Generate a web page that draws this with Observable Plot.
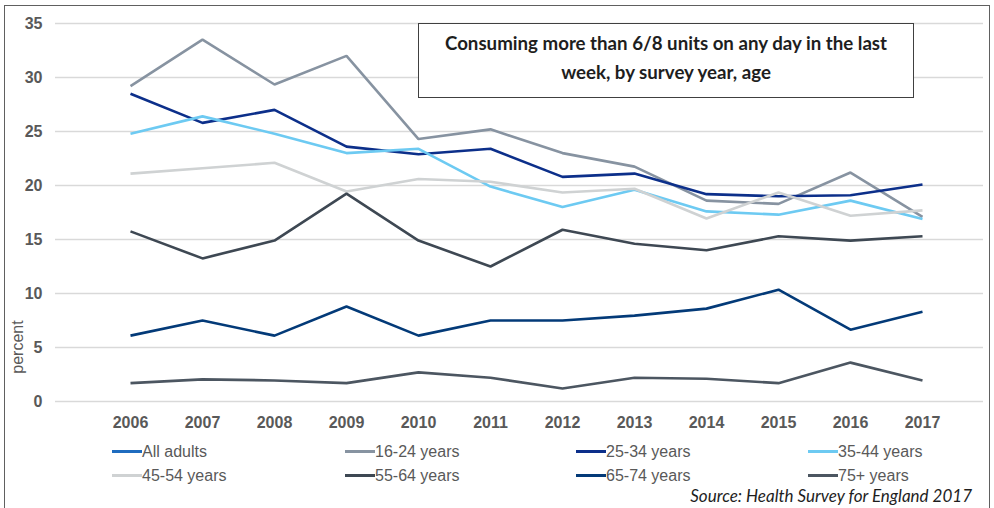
<!DOCTYPE html>
<html>
<head>
<meta charset="utf-8">
<script src="https://cdn.jsdelivr.net/npm/d3@7"></script>
<script src="https://cdn.jsdelivr.net/npm/@observablehq/plot@0.6"></script>
<style>
  html, body { margin: 0; padding: 0; background: #fff; }
  #wrap { position: relative; width: 994px; height: 508px; overflow: hidden; font-family: "Liberation Sans", Arial, sans-serif; }
  #frame { position: absolute; left: 4px; top: 5px; width: 986px; height: 520px; border: 1px solid #606060; box-sizing: border-box; pointer-events: none; }
  #title { position: absolute; left: 418px; top: 23px; width: 496px; height: 75px; border: 1px solid #404040; box-sizing: border-box; background: #fff;
           font-family: Lato, "Open Sans", sans-serif; font-weight: bold; font-size: 18.7px; color: #1e1e1e; text-align: center; line-height: 29px; padding-top: 5px; }
  .leg { position: absolute; font-size: 16px; color: #595959; white-space: nowrap; line-height: 18px; }
  .leg span.sw { display: inline-block; width: 30px; height: 3px; vertical-align: middle; margin-right: 0px; position: relative; top: -1px; }
  #source { position: absolute; right: 22px; top: 486px; font-family: Lato, "Open Sans", sans-serif; font-style: italic; font-size: 17px; line-height: 20px; color: #1e1e1e; }
  #ylabel { position: absolute; left: 17.5px; top: 347px; transform: translate(-50%, -50%) rotate(-90deg); font-size: 16px; color: #595959; white-space: nowrap; }
  g[aria-label="y-axis tick label"] text, g[aria-label="x-axis tick label"] text { font-weight: bold; }
</style>
</head>
<body>
<div id="wrap">
  <div id="chart"></div>
  <div id="ylabel">percent</div>
  <div id="title">Consuming more than 6/8 units on any day in the last<br>week, by survey year, age</div>
  <div id="legend"></div>
  <div id="source">Source: Health Survey for England 2017</div>
  <div id="frame"></div>
</div>
<script>
const years = [2006, 2007, 2008, 2009, 2010, 2011, 2012, 2013, 2014, 2015, 2016, 2017];
const yTicks = [0, 5, 10, 15, 20, 25, 30, 35];

const seriesNames = ["All adults", "16-24 years", "25-34 years", "35-44 years", "45-54 years", "55-64 years", "65-74 years", "75+ years"];
const seriesColors = ["#1f6cbf", "#8793a1", "#0c2f8a", "#6dcaf2", "#cfd2d3", "#3e4853", "#033a78", "#4c5661"];

const allAdults = [];
const age16_24 = [29.2, 33.5, 29.35, 32.0, 24.3, 25.2, 23.0, 21.75, 18.6, 18.3, 21.2, 17.1];
const age25_34 = [28.5, 25.8, 27.0, 23.6, 22.9, 23.4, 20.8, 21.1, 19.2, 19.0, 19.1, 20.1];
const age35_44 = [24.8, 26.4, 24.8, 23.0, 23.4, 19.9, 18.0, 19.6, 17.6, 17.3, 18.6, 16.9];
const age45_54 = [21.1, 21.6, 22.1, 19.45, 20.6, 20.35, 19.35, 19.7, 16.95, 19.35, 17.2, 17.7];
const age55_64 = [15.75, 13.25, 14.9, 19.25, 14.9, 12.5, 15.9, 14.6, 14.0, 15.3, 14.9, 15.3];
const age65_74 = [6.1, 7.5, 6.1, 8.8, 6.1, 7.5, 7.5, 7.95, 8.6, 10.35, 6.65, 8.3];
const age75plus = [1.7, 2.05, 1.95, 1.7, 2.7, 2.2, 1.2, 2.2, 2.1, 1.7, 3.6, 1.95];

const seriesValues = [allAdults, age16_24, age25_34, age35_44, age45_54, age55_64, age65_74, age75plus];

const rows = [];
seriesValues.forEach((vals, i) => {
  vals.forEach((v, j) => rows.push({series: seriesNames[i], year: years[j], value: v}));
});

const chart = Plot.plot({
  width: 994,
  height: 508,
  marginLeft: 55,
  marginRight: 11,
  marginTop: 23,
  marginBottom: 107,
  style: { fontFamily: '"Liberation Sans", Arial, sans-serif', fontSize: "16px", color: "#595959", background: "transparent" },
  x: { type: "point", domain: years, range: [94, 958] },
  y: { domain: [0, 35], ticks: yTicks },
  color: { domain: seriesNames, range: seriesColors },
  marks: [
    Plot.ruleY(yTicks, { stroke: "#d9d9d9", strokeWidth: 1.3 }),
    Plot.axisY({ ticks: yTicks, tickSize: 0, tickPadding: 13, label: null, fill: "#595959" }),
    Plot.axisX({ ticks: years, tickSize: 0, tickPadding: 15, tickFormat: d => String(d), label: null, fill: "#595959" }),
    Plot.line(rows, { x: "year", y: "value", z: "series", stroke: "series", strokeWidth: 2.6, strokeLinejoin: "miter", strokeLinecap: "butt" })
  ]
});
document.getElementById("chart").appendChild(chart);

const legendCols = [112, 345, 576, 808];
const legendRows = [443, 467];
const leg = document.getElementById("legend");
seriesNames.forEach((name, i) => {
  const d = document.createElement("div");
  d.className = "leg";
  d.style.left = legendCols[i % 4] + "px";
  d.style.top = legendRows[Math.floor(i / 4)] + "px";
  d.innerHTML = `<span class="sw" style="background:${seriesColors[i]}"></span>${name}`;
  leg.appendChild(d);
});
</script>
</body>
</html>
